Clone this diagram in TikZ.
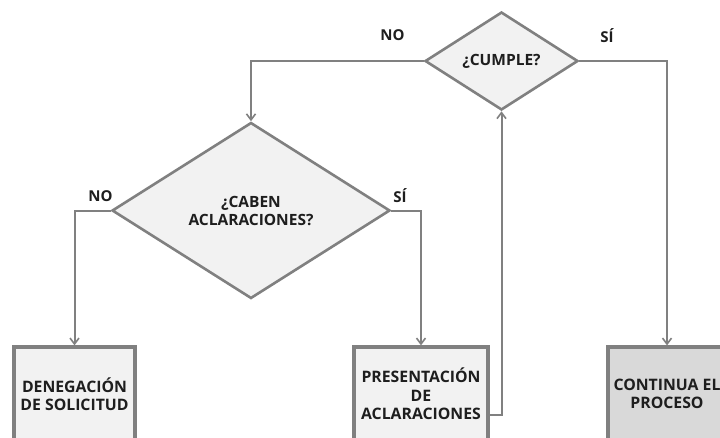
\documentclass[tikz,border=0pt]{standalone}
\usepackage{fontspec}
\setmainfont{Open Sans}
\usetikzlibrary{shapes.geometric,arrows.meta}
\definecolor{lineg}{HTML}{808080}
\definecolor{fillg}{HTML}{F2F2F2}
\definecolor{filld}{HTML}{D9D9D9}
\definecolor{txt}{HTML}{1E1E1E}
\tikzset{
  dec/.style={diamond, draw=lineg, line width=2.6pt, fill=fillg, inner sep=0pt, align=center, text=txt, font=\bfseries\fontsize{15.5}{18}\selectfont},
  box/.style={rectangle, draw=lineg, line width=3.2pt, fill=fillg, inner sep=0pt, align=center, text=txt, font=\bfseries\fontsize{15.8}{18.5}\selectfont},
  conn/.style={draw=lineg, line width=2pt, -{Straight Barb[length=6pt,width=9pt,line width=1.6pt]}},
  lab/.style={text=txt, font=\bfseries\fontsize{15}{17}\selectfont, inner sep=0pt}
}
\begin{document}
\begin{tikzpicture}[x=1pt,y=-1pt]
\useasboundingbox (0,0) rectangle (720,437);
\clip (0,0) rectangle (720,437);
\fill[white] (0,0) rectangle (720,437);
\node[dec, minimum width=153pt, minimum height=98pt] (cumple) at (501.5,61) {¿CUMPLE?};
\node[dec, minimum width=278pt, minimum height=176pt] (caben) at (251,210.5) {¿CABEN\\ACLARACIONES?};
\node[box, minimum width=121pt, minimum height=94pt] (deneg) at (74.5,394) {DENEGACIÓN\\DE SOLICITUD};
\node[box, minimum width=134pt, minimum height=94pt] (pres) at (421,394) {PRESENTACIÓN\\DE\\ACLARACIONES};
\node[box, fill=filld, minimum width=118pt, minimum height=94pt] (cont) at (667,394) {CONTINUA EL\\PROCESO};
\draw[conn] (cumple.west) -| (caben.north);
\draw[conn] (cumple.east) -| (cont.north);
\draw[conn] (caben.west) -| (deneg.north);
\draw[conn] (caben.east) -| (pres.north);
\draw[conn] ([yshift=-21pt]pres.east) -| (cumple.south);
\node[lab] (no1) at (392.5,35.5) {NO};
\node[lab] (si1) at (607,35.5) {SÍ};
\node[lab] (no2) at (100.5,196) {NO};
\node[lab] (si2) at (400,196) {SÍ};
\end{tikzpicture}
\end{document}
